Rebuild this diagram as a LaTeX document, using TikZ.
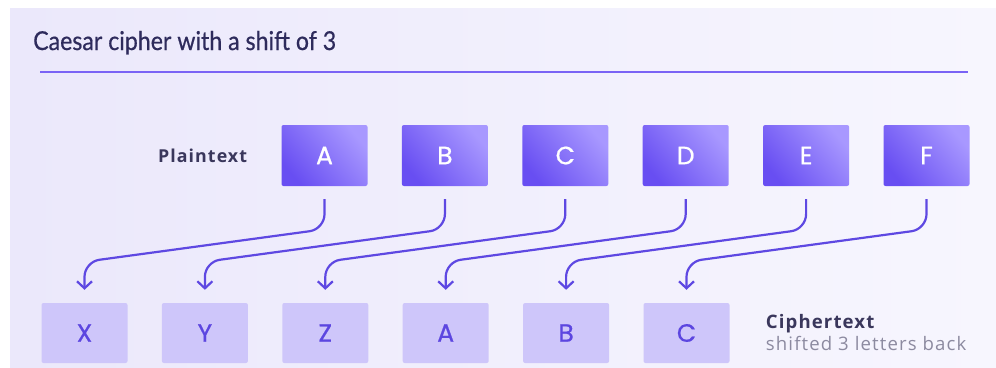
\documentclass[tikz,border=0pt]{standalone}
\usepackage{fontspec}
\setmainfont{Lato}
\newfontfamily\titlefont[FakeBold=0.6]{Lato}
\newfontfamily\letterfont[FakeBold=0.8]{Poppins}
\newfontfamily\labelfont[LetterSpace=6]{Open Sans}
\usetikzlibrary{positioning,calc,arrows.meta}
\definecolor{PanelLeft}{RGB}{235,232,251}
\definecolor{PanelRight}{RGB}{247,246,254}
\definecolor{TitleInk}{RGB}{46,43,92}
\definecolor{RuleViolet}{RGB}{122,99,245}
\definecolor{PlainDeep}{RGB}{104,78,242}
\definecolor{PlainLight}{RGB}{168,152,255}
\definecolor{CipherFill}{RGB}{206,198,250}
\definecolor{CipherInk}{RGB}{92,70,224}
\definecolor{ArrowInk}{RGB}{94,72,226}
\definecolor{LabelInk}{RGB}{58,55,92}
\definecolor{NoteInk}{RGB}{140,138,160}

\begin{document}
\begin{tikzpicture}[x=1pt,y=-1pt,node distance=34pt,
  plainbox/.style={rounded corners=2pt,minimum width=86pt,minimum height=61pt,inner sep=0pt,
    bottom color=PlainDeep,top color=PlainLight,shading angle=-50,text=white,font=\letterfont\fontsize{25}{25}\selectfont},
  cipherbox/.style={rounded corners=2pt,minimum width=86pt,minimum height=60pt,inner sep=0pt,
    fill=CipherFill,text=CipherInk,font=\letterfont\fontsize{25}{25}\selectfont},
  shiftarrow/.style={draw=ArrowInk,line width=2.2pt,rounded corners=15pt,
    -{Straight Barb[length=7pt,width=15pt]}}]
\useasboundingbox (0,0) rectangle (996,367);
% panel
\shade[left color=PanelLeft,right color=PanelRight] (10,8) rectangle (996,367);
% title
\node[anchor=base west,inner sep=0pt,text=TitleInk,font=\titlefont\fontsize{26}{26}\selectfont] (title) at (33,50)
  {\scalebox{0.89}[1]{Caesar cipher with a shift of 3}};
\draw[RuleViolet,line width=2pt] (40,72) -- (968,72);
% plaintext row
\node[plainbox] (pA) at (324.5,155.5) {A};
\node[plainbox,right=of pA] (pB) {B};
\node[plainbox,right=of pB] (pC) {C};
\node[plainbox,right=of pC] (pD) {D};
\node[plainbox,right=of pD] (pE) {E};
\node[plainbox,right=of pE] (pF) {F};
\node[left=of pA,inner sep=0pt,text=LabelInk,font=\labelfont\bfseries\fontsize{17.8}{17.8}\selectfont] (plainlabel) {Plaintext};
% ciphertext row
\node[cipherbox] (cX) at (84.5,333) {X};
\node[cipherbox,right=of cX] (cY) {Y};
\node[cipherbox,right=of cY] (cZ) {Z};
\node[cipherbox,right=of cZ] (cA) {A};
\node[cipherbox,right=of cA] (cB) {B};
\node[cipherbox,right=of cB] (cC) {C};
\node[right=36pt of cC,inner sep=0pt,align=left,font=\labelfont\fontsize{18.6}{22}\selectfont] (cipherlabel)
  {\textcolor{LabelInk}{\bfseries Ciphertext}\\\textcolor{NoteInk}{shifted 3 letters back}};
% shifts
\foreach \src/\dst in {pA/cX,pB/cY,pC/cZ,pD/cA,pE/cB,pF/cC}
  \draw[shiftarrow] ($(\src.south)+(0,13)$) -- ($(\src.south)+(0,43)$)
    -- ($(\dst.north)+(0,-41)$) -- ($(\dst.north)+(0,-13)$);
\end{tikzpicture}
\end{document}
